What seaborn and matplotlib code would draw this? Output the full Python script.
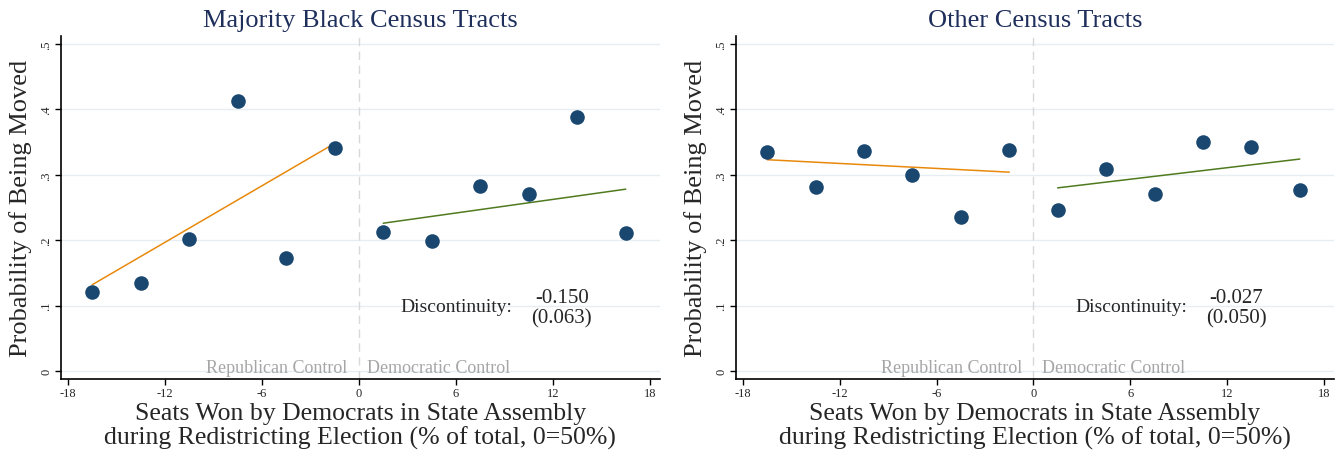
import matplotlib
matplotlib.use("Agg")
import matplotlib.pyplot as plt
import seaborn as sns
import pandas as pd

# ---- data ----
bin_centers = [-16.5, -13.5, -10.5, -7.5, -4.5, -1.5, 1.5, 4.5, 7.5, 10.5, 13.5, 16.5]
black_probs = [0.121, 0.135, 0.202, 0.413, 0.173, 0.341, 0.212, 0.199, 0.283, 0.271, 0.389, 0.211]
other_probs = [0.335, 0.281, 0.337, 0.300, 0.236, 0.338, 0.246, 0.309, 0.271, 0.350, 0.343, 0.277]

fit_rep_x = [-16.5, -1.5]
fit_dem_x = [1.5, 16.5]
black_fit_rep = [0.132, 0.348]
black_fit_dem = [0.226, 0.278]
other_fit_rep = [0.323, 0.304]
other_fit_dem = [0.280, 0.324]

titles = ["Majority Black Census Tracts", "Other Census Tracts"]
disc_est = ["-0.150", "-0.027"]
disc_se = ["(0.063)", "(0.050)"]
x_ticks = [-18, -12, -6, 0, 6, 12, 18]
y_ticks = [0, 0.1, 0.2, 0.3, 0.4, 0.5]
y_ticklabels = ["0", ".1", ".2", ".3", ".4", ".5"]

sns.set_style("white")
plt.rcParams["font.family"] = ["Liberation Serif", "DejaVu Serif"]

fig = plt.figure(figsize=(13.42, 4.56), dpi=100)
W, H = 1342, 456
axes = [
    fig.add_axes([60.7 / W, 76 / H, (660 - 60.7) / W, (419 - 76) / H]),
    fig.add_axes([735.7 / W, 76 / H, (1334 - 735.7) / W, (419 - 76) / H]),
]

navy = "#1a476f"
orange = "#e8890c"
green = "#4f7a1f"
title_color = "#1f2f5c"
grid_color = "#e6eef2"

panels = [
    (black_probs, black_fit_rep, black_fit_dem),
    (other_probs, other_fit_rep, other_fit_dem),
]

for i, ax in enumerate(axes):
    probs, frep, fdem = panels[i]
    ax.set_xlim(-18.45, 18.62)
    ax.set_ylim(-0.012, 0.512)
    for yt in y_ticks:
        ax.axhline(yt, color=grid_color, lw=1.0, zorder=0)
    ax.axvline(0, color="#d8d8d8", lw=1.0, ls=(0, (6, 4)), zorder=1)

    df = pd.DataFrame({"x": bin_centers, "y": probs})
    sns.lineplot(x=fit_rep_x, y=frep, ax=ax, color=orange, lw=1.1, zorder=2)
    sns.lineplot(x=fit_dem_x, y=fdem, ax=ax, color=green, lw=1.1, zorder=2)
    sns.scatterplot(data=df, x="x", y="y", ax=ax, color=navy, s=110,
                    edgecolor=navy, linewidth=0, zorder=3)

    ax.set_xticks(x_ticks)
    ax.set_xticklabels([str(t) for t in x_ticks], fontsize=9)
    ax.set_yticks(y_ticks)
    ax.set_yticklabels(y_ticklabels, fontsize=9, rotation=90, va="center")
    ax.tick_params(axis="both", which="both", length=4, width=1, color="black",
                   direction="out", bottom=True, left=True, pad=2)
    for s in ["top", "right"]:
        ax.spines[s].set_visible(False)
    for s in ["left", "bottom"]:
        ax.spines[s].set_color("black")
        ax.spines[s].set_linewidth(1.2)

    ax.set_title(titles[i], fontsize=19, color=title_color, pad=7)
    ax.set_ylabel("Probability of Being Moved", fontsize=19, labelpad=6)
    ax.set_xlabel("Seats Won by Democrats in State Assembly\n"
                  "during Redistricting Election (% of total, 0=50%)",
                  fontsize=18.5, linespacing=1.08, labelpad=2)

    ax.text(-0.7, -0.008, "Republican Control", ha="right", va="bottom",
            fontsize=13, color="#a6a6a6")
    ax.text(0.5, -0.008, "Democratic Control", ha="left", va="bottom",
            fontsize=13, color="#a6a6a6")
    ax.text(9.5, 0.099, "Discontinuity:", ha="right", va="center", fontsize=14)
    ax.text(12.55, 0.097, disc_est[i] + "\n" + disc_se[i], ha="center",
            va="center", fontsize=15, linespacing=1.08)

fig.savefig("out.png", dpi=100)
